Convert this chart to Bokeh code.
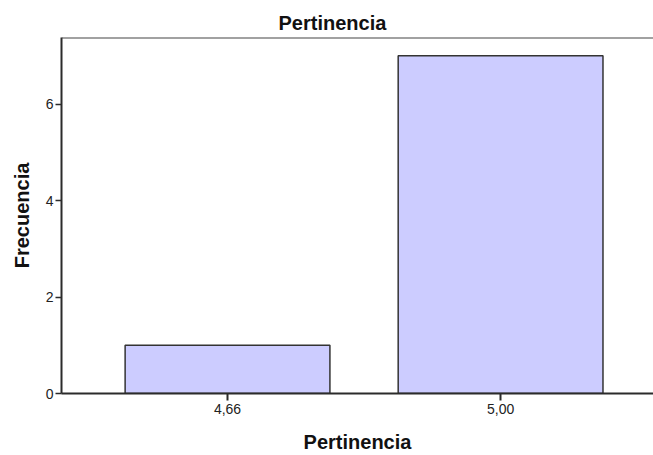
from bokeh.plotting import figure
from bokeh.models import Range1d, FixedTicker, Span, ColumnDataSource
from bokeh.embed import file_html
from bokeh.resources import INLINE

# Data
categories = ["4,66", "5,00"]
frecuencia = [1, 7]
y_ticks = [0, 2, 4, 6]
title_text = "Pertinencia"
x_label = "Pertinencia"
y_label = "Frecuencia"

FONT = "Liberation Sans"
Y_TOP = 7.38

positions = list(range(len(categories)))
src = ColumnDataSource(dict(x=positions, top=frecuencia))

p = figure(width=653, height=455, output_backend="svg", toolbar_location=None,
           x_range=Range1d(-0.608, 1.560), y_range=Range1d(0, Y_TOP),
           min_border_left=61, min_border_right=0, min_border_top=37, min_border_bottom=58)

p.vbar(x="x", top="top", width=0.75, source=src, fill_color="#CCCCFF",
       line_color="#333333", line_width=1.5)

p.title.text = title_text
p.title.text_font = FONT
p.title.text_font_size = "20px"
p.title.text_font_style = "bold"
p.title.align = "left"
p.title.offset = 217
p.title.standoff = 7
p.title.text_color = "#111111"

p.outline_line_color = None
p.add_layout(Span(location=Y_TOP, dimension="width", line_color="#444444", line_width=2))

p.xgrid.visible = False
p.ygrid.visible = False

xa = p.xaxis[0]
xa.ticker = FixedTicker(ticks=positions)
xa.major_label_overrides = {i: c for i, c in zip(positions, categories)}
xa.axis_label = x_label
xa.axis_label_text_font = FONT
xa.axis_label_text_font_size = "20px"
xa.axis_label_text_font_style = "bold"
xa.axis_label_text_color = "#111111"
xa.axis_label_standoff = 14
xa.major_label_text_font = FONT
xa.major_label_text_font_size = "14px"
xa.major_label_text_color = "#222222"
xa.major_label_standoff = 3
xa.major_tick_out = 7
xa.major_tick_in = 0
xa.minor_tick_out = 0
xa.minor_tick_in = 0
xa.axis_line_color = "#2b2b2b"
xa.axis_line_width = 2
xa.major_tick_line_color = "#2b2b2b"
xa.major_tick_line_width = 2

ya = p.yaxis[0]
ya.ticker = FixedTicker(ticks=y_ticks)
ya.axis_label = y_label
ya.axis_label_text_font = FONT
ya.axis_label_text_font_size = "20px"
ya.axis_label_text_font_style = "bold"
ya.axis_label_text_color = "#111111"
ya.axis_label_standoff = 10
ya.major_label_text_font = FONT
ya.major_label_text_font_size = "14px"
ya.major_label_text_color = "#222222"
ya.major_label_standoff = 2
ya.major_tick_out = 6
ya.major_tick_in = 0
ya.minor_tick_out = 0
ya.minor_tick_in = 0
ya.axis_line_color = "#2b2b2b"
ya.axis_line_width = 2
ya.major_tick_line_color = "#2b2b2b"
ya.major_tick_line_width = 1.5

open("out.html", "w").write(file_html(p, INLINE))
